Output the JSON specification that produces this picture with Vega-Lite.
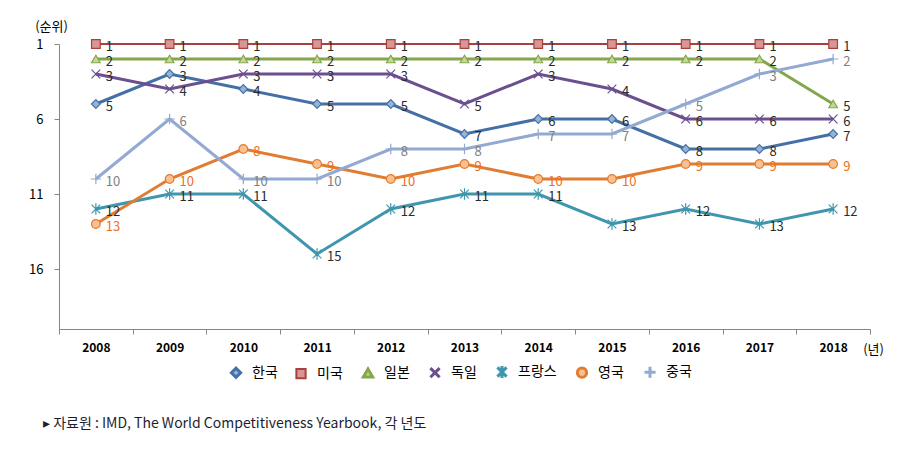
{
  "$schema": "https://vega.github.io/schema/vega-lite/v6.json",
  "width": 811,
  "height": 285,
  "autosize": {"type": "none"},
  "padding": {"left": 59, "top": 44, "right": 40, "bottom": 124},
  "background": "white",
  "config": {
    "view": {"stroke": null},
    "font": "Noto Sans CJK KR"
  },
  "title": {
    "text": "▸ 자료원 : IMD, The World Competitiveness Yearbook, 각 년도",
    "orient": "bottom",
    "anchor": "start",
    "frame": "group",
    "dx": -16,
    "offset": 33,
    "fontSize": 14,
    "fontWeight": "normal",
    "color": "#1E1E2E",
    "font": "Noto Sans CJK KR"
  },
  "data": {
    "values": [
      {"country": "한국", "year": 2008, "rank": 5},
      {"country": "한국", "year": 2009, "rank": 3},
      {"country": "한국", "year": 2010, "rank": 4},
      {"country": "한국", "year": 2011, "rank": 5},
      {"country": "한국", "year": 2012, "rank": 5},
      {"country": "한국", "year": 2013, "rank": 7},
      {"country": "한국", "year": 2014, "rank": 6},
      {"country": "한국", "year": 2015, "rank": 6},
      {"country": "한국", "year": 2016, "rank": 8},
      {"country": "한국", "year": 2017, "rank": 8},
      {"country": "한국", "year": 2018, "rank": 7},
      {"country": "미국", "year": 2008, "rank": 1},
      {"country": "미국", "year": 2009, "rank": 1},
      {"country": "미국", "year": 2010, "rank": 1},
      {"country": "미국", "year": 2011, "rank": 1},
      {"country": "미국", "year": 2012, "rank": 1},
      {"country": "미국", "year": 2013, "rank": 1},
      {"country": "미국", "year": 2014, "rank": 1},
      {"country": "미국", "year": 2015, "rank": 1},
      {"country": "미국", "year": 2016, "rank": 1},
      {"country": "미국", "year": 2017, "rank": 1},
      {"country": "미국", "year": 2018, "rank": 1},
      {"country": "일본", "year": 2008, "rank": 2},
      {"country": "일본", "year": 2009, "rank": 2},
      {"country": "일본", "year": 2010, "rank": 2},
      {"country": "일본", "year": 2011, "rank": 2},
      {"country": "일본", "year": 2012, "rank": 2},
      {"country": "일본", "year": 2013, "rank": 2},
      {"country": "일본", "year": 2014, "rank": 2},
      {"country": "일본", "year": 2015, "rank": 2},
      {"country": "일본", "year": 2016, "rank": 2},
      {"country": "일본", "year": 2017, "rank": 2},
      {"country": "일본", "year": 2018, "rank": 5},
      {"country": "독일", "year": 2008, "rank": 3},
      {"country": "독일", "year": 2009, "rank": 4},
      {"country": "독일", "year": 2010, "rank": 3},
      {"country": "독일", "year": 2011, "rank": 3},
      {"country": "독일", "year": 2012, "rank": 3},
      {"country": "독일", "year": 2013, "rank": 5},
      {"country": "독일", "year": 2014, "rank": 3},
      {"country": "독일", "year": 2015, "rank": 4},
      {"country": "독일", "year": 2016, "rank": 6},
      {"country": "독일", "year": 2017, "rank": 6},
      {"country": "독일", "year": 2018, "rank": 6},
      {"country": "프랑스", "year": 2008, "rank": 12},
      {"country": "프랑스", "year": 2009, "rank": 11},
      {"country": "프랑스", "year": 2010, "rank": 11},
      {"country": "프랑스", "year": 2011, "rank": 15},
      {"country": "프랑스", "year": 2012, "rank": 12},
      {"country": "프랑스", "year": 2013, "rank": 11},
      {"country": "프랑스", "year": 2014, "rank": 11},
      {"country": "프랑스", "year": 2015, "rank": 13},
      {"country": "프랑스", "year": 2016, "rank": 12},
      {"country": "프랑스", "year": 2017, "rank": 13},
      {"country": "프랑스", "year": 2018, "rank": 12},
      {"country": "영국", "year": 2008, "rank": 13},
      {"country": "영국", "year": 2009, "rank": 10},
      {"country": "영국", "year": 2010, "rank": 8},
      {"country": "영국", "year": 2011, "rank": 9},
      {"country": "영국", "year": 2012, "rank": 10},
      {"country": "영국", "year": 2013, "rank": 9},
      {"country": "영국", "year": 2014, "rank": 10},
      {"country": "영국", "year": 2015, "rank": 10},
      {"country": "영국", "year": 2016, "rank": 9},
      {"country": "영국", "year": 2017, "rank": 9},
      {"country": "영국", "year": 2018, "rank": 9},
      {"country": "중국", "year": 2008, "rank": 10},
      {"country": "중국", "year": 2009, "rank": 6},
      {"country": "중국", "year": 2010, "rank": 10},
      {"country": "중국", "year": 2011, "rank": 10},
      {"country": "중국", "year": 2012, "rank": 8},
      {"country": "중국", "year": 2013, "rank": 8},
      {"country": "중국", "year": 2014, "rank": 7},
      {"country": "중국", "year": 2015, "rank": 7},
      {"country": "중국", "year": 2016, "rank": 5},
      {"country": "중국", "year": 2017, "rank": 3},
      {"country": "중국", "year": 2018, "rank": 2}
    ]
  },
  "encoding": {
    "x": {
      "field": "year",
      "type": "quantitative",
      "scale": {"domain": [2007.5, 2018.5], "nice": false, "zero": false},
      "axis": {
        "values": [2007.5, 2008, 2008.5, 2009, 2009.5, 2010, 2010.5, 2011, 2011.5, 2012, 2012.5, 2013, 2013.5, 2014, 2014.5, 2015, 2015.5, 2016, 2016.5, 2017, 2017.5, 2018, 2018.5],
        "labelExpr": "datum.value % 1 === 0 ? '' + datum.value : ''",
        "tickOpacity": {"condition": {"test": "datum.value % 1 === 0", "value": 0}, "value": 1},
        "tickSize": 5,
        "tickColor": "#868686",
        "domainColor": "#868686",
        "grid": false,
        "labelFontSize": 12,
        "labelFontWeight": "bold",
        "labelColor": "#000000",
        "labelPadding": 8,
        "labelFont": "Noto Sans CJK KR",
        "title": "(년)",
        "titleX": 814,
        "titleY": 20,
        "titleAlign": "center",
        "titleBaseline": "middle",
        "titleFontSize": 13,
        "titleFontWeight": "normal",
        "titleColor": "#000000"
      }
    },
    "y": {
      "field": "rank",
      "type": "quantitative",
      "scale": {"domain": [1, 20], "reverse": true, "nice": false, "zero": false},
      "axis": {
        "values": [1, 6, 11, 16],
        "tickSize": 5,
        "tickColor": "#868686",
        "domainColor": "#868686",
        "grid": false,
        "labelFontSize": 13,
        "labelColor": "#000000",
        "labelPadding": 11,
        "title": "(순위)",
        "titleAngle": 0,
        "titleX": -8,
        "titleY": -18,
        "titleAlign": "center",
        "titleBaseline": "middle",
        "titleFontSize": 13,
        "titleFontWeight": "normal",
        "titleColor": "#000000"
      }
    }
  },
  "layer": [
    {
      "mark": {"type": "line"},
      "encoding": {
        "stroke": {
          "field": "country",
          "type": "nominal",
          "scale": {
            "domain": ["한국", "미국", "일본", "독일", "프랑스", "영국", "중국"],
            "range": ["#4470A6", "#A8403E", "#86A64C", "#6B4F8E", "#3F96AE", "#E07D33", "#92A9D2"]
          },
          "legend": {
            "orient": "none",
            "direction": "horizontal",
            "columns": 7,
            "legendX": 170,
            "legendY": 321,
            "title": null,
            "symbolSize": 85,
            "symbolStrokeWidth": 1.5,
            "labelFontSize": 14,
            "labelColor": "#000000",
            "labelOffset": 9,
            "columnPadding": 14
          }
        },
        "strokeWidth": {
          "field": "country",
          "type": "nominal",
          "scale": {
            "type": "ordinal",
            "domain": ["한국", "미국", "일본", "독일", "프랑스", "영국", "중국"],
            "range": [3, 2, 3, 3, 3, 3, 3]
          },
          "legend": null
        }
      }
    },
    {
      "mark": {"type": "point", "strokeWidth": 1.2, "opacity": 1},
      "encoding": {
        "stroke": {"field": "country", "type": "nominal"},
        "fill": {
          "field": "country",
          "type": "nominal",
          "scale": {
            "domain": ["한국", "미국", "일본", "독일", "프랑스", "영국", "중국"],
            "range": ["#95B3D7", "#D99694", "#C3D69B", "transparent", "transparent", "#FAC090", "transparent"]
          },
          "legend": null
        },
        "shape": {
          "field": "country",
          "type": "nominal",
          "scale": {
            "domain": ["한국", "미국", "일본", "독일", "프랑스", "영국", "중국"],
            "range": ["diamond", "square", "triangle-up", "M-1,-1L1,1M-1,1L1,-1", "M-1,-1L1,1M-1,1L1,-1M0,-1.3L0,1.3", "circle", "M-1.2,0L1.2,0M0,-1.2L0,1.2"]
          },
          "legend": null
        },
        "size": {"value": 75}
      }
    },
    {
      "mark": {"type": "text", "align": "left", "baseline": "middle", "dx": 10, "dy": 3, "fontSize": 13},
      "encoding": {
        "text": {"field": "rank", "type": "quantitative"},
        "color": {
          "condition": [
            {"test": "datum.country === '영국'", "value": "#F07020"},
            {"test": "datum.country === '중국'", "value": "#808080"}
          ],
          "value": "#2B2B2B"
        }
      }
    }
  ]
}
